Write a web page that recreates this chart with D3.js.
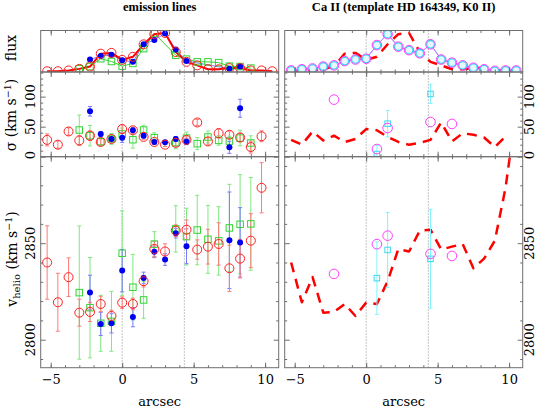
<!DOCTYPE html>
<html><head><meta charset="utf-8">
<script src="https://cdn.jsdelivr.net/npm/d3@7"></script>
<style>
body{margin:0;background:#fff}
svg{display:block}
text{font-family:"DejaVu Serif",serif;fill:#000}
</style></head>
<body><svg id="c" width="538" height="409"></svg>
<script>
// ---------- data ----------
const arcsec = [-5.25,-4.5,-3.75,-3,-2.25,-1.5,-0.75,0,0.75,1.5,2.25,3,3.75,4.5,5.25,6,6.75,7.5,8.25,9,9.75,10.5];
const refLines = [0, 4.35];
const xMajor = [-5,0,5,10];
const xMinor = [-5,-4,-3,-2,-1,0,1,2,3,4,5,6,7,8,9,10];
const sigmaMajor = [0,50,100];
const sigmaMinor = [10,20,30,40,60,70,80,90,110,120,130,140];
const vMajor = [2800,2850];
const vMinor = [2790,2810,2820,2830,2840,2860,2870,2880,2890];

// emission lines: red (open circles)
const redFlux = [0.02,0.02,0.04,0.08,0.14,0.47,0.49,0.31,0.39,0.71,0.97,1.0,0.51,0.26,0.17,0.07,0.07,0.10,0.10,0.04,0.04,0.02];
const redSigma = [28,20,42,27,35,24.5,29.5,46,44,33,24.5,20,23,28,57,25.5,39,36.5,32,16,34,null];
const redSigmaErr = [10,6,6,8,8,5,4,7,5,4,4,3,5,5,5,6,8,6,7,10,9,null];
const redV = [2840,2819.4,2832.4,2814,2814.4,2818.5,2812.3,2819.2,2818.5,2830.3,2847,2845.7,2856.5,2857,2846.7,2848.2,2849.6,2837,2842,2851.3,2878.7,2919];
const redVErr = [19,15,10,7,5,4,3,3,3,3,4,4,3,5,5,9,11,12,10,14,13,null];

// emission lines: blue (filled circles)
const blueFlux = [null,null,null,null,0.32,0.41,0.44,0.30,0.26,0.71,0.82,0.99,0.58,0.28,null,null,null,0.085,0.14,null,null,null];
const blueSigma = [null,null,null,null,75.6,37.8,29.5,31.7,44,35,24.5,24,29.5,25,null,null,null,15.6,80.6,null,null,null];
const blueSigmaErr = [null,null,null,null,8,4,4,8,4,4,3,3,4,5,null,null,null,10,15,null,null,null];
const blueV = [null,null,null,null,2824.4,2808.2,2808.5,2835.8,2811.7,2832,2845.5,2841.5,2855.2,2848.4,null,null,null,2851.5,2850.4,null,null,null];
const blueVErr = [null,null,null,null,9,6,5,11,5,3,3,3,2.5,9,null,null,null,25,18,null,null,null];

// emission lines: green (open squares)
const greenFlux = [null,null,null,0.085,0.14,0.34,0.27,0.15,0.22,0.60,0.99,null,0.43,0.33,0.26,0.26,0.24,0.15,0.14,0.10,null,null];
const greenSigma = [null,null,null,44.4,35,25,29.5,37.8,28.3,44.4,31.7,null,23.3,31,21.7,32.8,27.2,26,31,22.8,null,null];
const greenSigmaErr = [null,null,null,25,17,6,9,10,14,8,8,null,10,10,10,10,8,8,13,12,null,null];
const greenV = [null,null,null,2824.4,2816.6,2808.5,2809.5,2844.8,2827.2,2820.6,2849.5,null,2857.4,2853.4,2856.8,2852,2851.2,2857.9,2859.8,2860,null,null];
const greenVErr = [null,null,null,34.5,26,14.5,15.5,22,17,9.5,6.5,null,12,14.7,18,17.6,17.7,22.6,25.7,24,null,null];

// Ca II
const caFlux = [0.04,0.07,0.09,0.14,0.17,0.28,0.32,0.34,0.69,0.97,0.65,0.56,0.48,0.71,0.32,0.24,0.17,0.11,0.07,0.03,0.04,0.04];
const caSigmaCircle = [null,null,null,null,95,null,null,null,12.8,47.8,null,null,null,57.8,null,54.5,null,null,null,null,null,null];
const caSigmaSquare = [null,null,null,null,null,null,null,null,4.5,55,null,null,null,104.5,null,null,null,null,null,null,null,null];
const caSigmaSquareErr = [null,null,null,null,null,null,null,null,14,22,null,null,null,16,null,null,null,null,null,null,null,null];
const caVCircle = [null,null,null,null,2834.1,null,null,null,2849.5,2853.9,null,null,null,2844.5,null,2843.4,null,null,null,null,null,null];
const caVSquare = [null,null,null,null,null,null,null,null,2831.9,2846.5,null,null,null,2841.9,null,null,null,null,null,null,null,null];
const caVSquareErr = [null,null,null,null,null,null,null,null,18.8,19.4,null,null,null,25.6,null,null,null,null,null,null,null,null];

// ---------- layout ----------
const svg = d3.select('#c');
const defs = svg.append('defs');
const cols = [{x0:40.7,x1:278.7},{x0:284.7,x1:522.7}];
const rowsDef = {flux:{y0:30.5,y1:72}, sigma:{y0:72,y1:156.7}, v:{y0:156.7,y1:367.7}};
const xs = cols.map(c => d3.scaleLinear().domain([-5.7,10.95]).range([c.x0,c.x1]));
const ys = {
  flux: d3.scaleLinear().domain([0,1.064]).range([72,30.5]),
  sigma: d3.scaleLinear().domain([0,141]).range([156.7,72]),
  v: d3.scaleLinear().domain([2785.5,2894.8]).range([367.7,156.7])
};
const C = {red:'#ff2020', redErr:'#ff7a7a', blue:'#0000f0', blueErr:'#7a7aff', blueLine:'#8080ff',
  green:'#33d433', greenErr:'#7fe87f', mag:'#ff3cff', cyan:'#3cd8f0', cyanErr:'#80f4ff', axis:'#6e6e6e'};

function clipG(ci,row){
  const id='cl'+ci+row, r=rowsDef[row];
  defs.append('clipPath').attr('id',id).append('rect')
    .attr('x',cols[ci].x0).attr('y',r.y0).attr('width',cols[ci].x1-cols[ci].x0).attr('height',r.y1-r.y0);
  return svg.append('g').attr('clip-path','url(#'+id+')');
}
function pts(vals){ return arcsec.map((a,i)=>({a,v:vals[i],i})).filter(d=>d.v!=null); }
function errBars(g,x,y,vals,errs,color){
  pts(vals).forEach(d=>{
    const e=errs[d.i]; if(e==null) return;
    const xx=x(d.a), yt=y(d.v+e), yb=y(d.v-e);
    g.append('line').attr('x1',xx).attr('x2',xx).attr('y1',yt).attr('y2',yb).attr('stroke',color).attr('stroke-width',1);
    [yt,yb].forEach(yy=>g.append('line').attr('x1',xx-2).attr('x2',xx+2).attr('y1',yy).attr('y2',yy).attr('stroke',color).attr('stroke-width',1));
  });
}
function poly(g,x,y,vals,color,w,dash){
  const p=g.append('path').datum(pts(vals)).attr('fill','none').attr('stroke',color).attr('stroke-width',w)
    .attr('stroke-linejoin','round').attr('d',d3.line().x(d=>x(d.a)).y(d=>y(d.v)));
  if(dash) p.attr('stroke-dasharray',dash);
}
function openCircles(g,x,y,vals,color,r,w){
  g.selectAll(null).data(pts(vals)).enter().append('circle').attr('cx',d=>x(d.a)).attr('cy',d=>y(d.v))
    .attr('r',r).attr('fill','none').attr('stroke',color).attr('stroke-width',w);
}
function dots(g,x,y,vals,color,r){
  g.selectAll(null).data(pts(vals)).enter().append('circle').attr('cx',d=>x(d.a)).attr('cy',d=>y(d.v))
    .attr('r',r).attr('fill',color);
}
function squares(g,x,y,vals,color,s){
  g.selectAll(null).data(pts(vals)).enter().append('rect').attr('x',d=>x(d.a)-s/2).attr('y',d=>y(d.v)-s/2)
    .attr('width',s).attr('height',s).attr('fill','none').attr('stroke',color).attr('stroke-width',1);
}

// reference dotted lines
cols.forEach((c,ci)=>{
  refLines.forEach(r=>{
    svg.append('line').attr('x1',xs[ci](r)).attr('x2',xs[ci](r)).attr('y1',30.5).attr('y2',367.7)
      .attr('stroke','#8a8a8a').attr('stroke-width',1).attr('stroke-dasharray','1,2');
  });
});

// ---------- left: emission lines ----------
{
  const x=xs[0];
  let g=clipG(0,'flux'), y=ys.flux;
  poly(g,x,y,greenFlux,C.green,1);
  poly(g,x,y,blueFlux,C.blueLine,1);
  poly(g,x,y,redFlux,'#ff0000',2);
  squares(g,x,y,greenFlux,C.green,6.5);
  dots(g,x,y,blueFlux,C.blue,3);
  openCircles(g,x,y,redFlux,C.red,4.5,1);

  g=clipG(0,'sigma'); y=ys.sigma;
  errBars(g,x,y,greenSigma,greenSigmaErr,C.greenErr);
  errBars(g,x,y,blueSigma,blueSigmaErr,C.blueErr);
  errBars(g,x,y,redSigma,redSigmaErr,C.redErr);
  squares(g,x,y,greenSigma,C.green,6.5);
  dots(g,x,y,blueSigma,C.blue,3);
  openCircles(g,x,y,redSigma,C.red,4.5,1);

  g=clipG(0,'v'); y=ys.v;
  errBars(g,x,y,greenV,greenVErr,C.greenErr);
  errBars(g,x,y,blueV,blueVErr,C.blueErr);
  errBars(g,x,y,redV,redVErr,C.redErr);
  squares(g,x,y,greenV,C.green,6.5);
  dots(g,x,y,blueV,C.blue,3);
  openCircles(g,x,y,redV,C.red,4.5,1);
}

// ---------- right: Ca II ----------
{
  const x=xs[1];
  let g=clipG(1,'flux'), y=ys.flux;
  poly(g,x,y,redFlux,'#ff0000',2.5,'10,7');
  poly(g,x,y,caFlux,C.mag,1);
  poly(g,x,y,caFlux,'#8fa0ff',1);
  g.selectAll(null).data(pts(caFlux)).enter().append('circle').attr('cx',d=>x(d.a)).attr('cy',d=>y(d.v))
    .attr('r',3.8).attr('fill','#e4f8ff').attr('stroke',C.cyan).attr('stroke-width',1.3);
  openCircles(g,x,y,caFlux,C.mag,4.8,1);

  g=clipG(1,'sigma'); y=ys.sigma;
  poly(g,x,y,redSigma,'#ff0000',2.5,'10,7');
  errBars(g,x,y,caSigmaSquare,caSigmaSquareErr,C.cyanErr);
  squares(g,x,y,caSigmaSquare,C.cyan,5.5);
  openCircles(g,x,y,caSigmaCircle,C.mag,4.8,1);

  g=clipG(1,'v'); y=ys.v;
  poly(g,x,y,redV,'#ff0000',2.5,'10,7');
  errBars(g,x,y,caVSquare,caVSquareErr,C.cyanErr);
  squares(g,x,y,caVSquare,C.cyan,5.5);
  openCircles(g,x,y,caVCircle,C.mag,4.8,1);
}

// ---------- boxes and ticks ----------
function styleAxis(sel){ sel.select('.domain').remove(); sel.selectAll('line').attr('stroke',C.axis); }
cols.forEach((c,ci)=>{
  const x=xs[ci];
  Object.keys(rowsDef).forEach(row=>{
    const r=rowsDef[row];
    [[r.y1,d3.axisBottom],[r.y0,d3.axisTop]].forEach(([yy,ax])=>{
      svg.append('g').attr('transform','translate(0,'+yy+')').call(ax(x).tickValues(xMinor).tickSize(-2.5).tickFormat('')).call(styleAxis);
      svg.append('g').attr('transform','translate(0,'+yy+')').call(ax(x).tickValues(xMajor).tickSize(-5).tickFormat('')).call(styleAxis);
    });
    if(row!=='flux'){
      const y=ys[row], maj=row==='sigma'?sigmaMajor:vMajor, min=row==='sigma'?sigmaMinor:vMinor;
      [[c.x0,d3.axisLeft],[c.x1,d3.axisRight]].forEach(([xx,ax])=>{
        svg.append('g').attr('transform','translate('+xx+',0)').call(ax(y).tickValues(min).tickSize(-2.5).tickFormat('')).call(styleAxis);
        svg.append('g').attr('transform','translate('+xx+',0)').call(ax(y).tickValues(maj).tickSize(-5).tickFormat('')).call(styleAxis);
      });
    }
    svg.append('rect').attr('x',c.x0).attr('y',r.y0).attr('width',c.x1-c.x0).attr('height',r.y1-r.y0)
      .attr('fill','none').attr('stroke',C.axis).attr('stroke-width',1);
  });
  // x tick labels
  const xl=svg.append('g').attr('transform','translate(0,367.7)')
    .call(d3.axisBottom(x).tickValues(xMajor).tickSize(0).tickPadding(7));
  xl.select('.domain').remove();
  xl.selectAll('text').attr('font-family','DejaVu Serif').attr('font-size',13).attr('fill','#000');
  svg.append('text').attr('x',(c.x0+c.x1)/2).attr('y',406).attr('text-anchor','middle').attr('font-size',13).text('arcsec');
  // y tick labels (rotated)
  const lx = ci===0 ? 35 : 534;
  [['sigma',sigmaMajor],['v',vMajor]].forEach(([row,vals])=>{
    vals.forEach(v=>{
      let yy=ys[row](v); if(row==='sigma'&&v===0) yy-=1.5;
      svg.append('text').attr('transform','translate('+lx+','+yy+') rotate(-90)').attr('text-anchor','middle')
        .attr('font-size',13).text(v);
    });
  });
});

// titles
svg.append('text').attr('x',(cols[0].x0+cols[0].x1)/2).attr('y',11).attr('text-anchor','middle')
  .style('font-family','"Liberation Serif",serif').attr('font-weight','bold').attr('font-size',12.5).text('emission lines');
svg.append('text').attr('x',(cols[1].x0+cols[1].x1)/2).attr('y',11).attr('text-anchor','middle')
  .style('font-family','"Liberation Serif",serif').attr('font-weight','bold').attr('font-size',12.5).text('Ca II (template HD 164349, K0 II)');

// axis titles
svg.append('text').attr('transform','translate(16,48) rotate(-90)').attr('text-anchor','middle').attr('font-size',14).text('flux');
{
  const t=svg.append('text').attr('transform','translate(16,115) rotate(-90)').attr('text-anchor','middle').attr('font-size',14);
  t.append('tspan').text('σ (km s');
  t.append('tspan').attr('dy',-5).attr('font-size',9.5).text('−1');
  t.append('tspan').attr('dy',5).text(')');
}
{
  const t=svg.append('text').attr('transform','translate(17,259) rotate(-90)').attr('text-anchor','middle').attr('font-size',14);
  t.append('tspan').text('v');
  t.append('tspan').attr('dy',3).attr('font-size',10).text('helio');
  t.append('tspan').attr('dy',-3).text(' (km s');
  t.append('tspan').attr('dy',-5).attr('font-size',9.5).text('−1');
  t.append('tspan').attr('dy',5).text(')');
}
</script></body></html>
